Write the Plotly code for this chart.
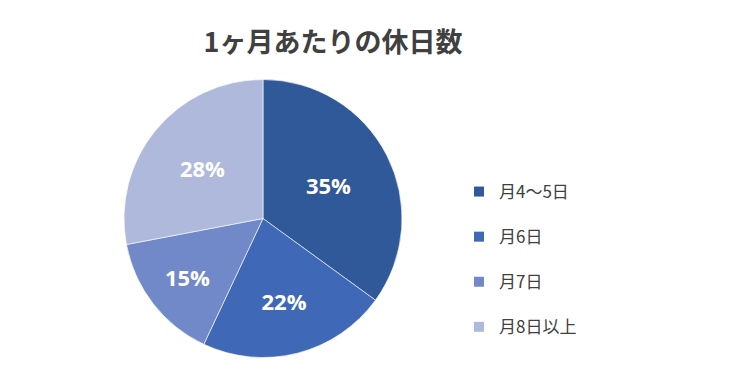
import plotly.graph_objects as go

categories = ["月4〜5日", "月6日", "月7日", "月8日以上"]
values = [35, 22, 15, 28]
colors = ["#30599A", "#3F69B6", "#7189C8", "#AEB9DC"]

W, H = 740, 378
OFF = 8  # page body offset
fig = go.Figure()
fig.add_trace(go.Pie(
    labels=categories, values=values, sort=False, direction="clockwise", rotation=0,
    marker=dict(colors=colors, line=dict(color="rgba(255,255,255,0.6)", width=1)),
    texttemplate="<b>%{percent:.0%}</b>", textposition="inside", insidetextorientation="horizontal",
    textfont=dict(family="Open Sans", size=22, color="white"),
    domain=dict(x=[(124 - OFF) / W, (402 - OFF) / W], y=[1 - (358 - OFF) / H, 1 - (79 - OFF) / H]),
    showlegend=False, hoverinfo="label+percent",
))
for i, (c, col) in enumerate(zip(categories, colors)):
    fig.add_trace(go.Scatter(
        x=[None], y=[None], mode="markers", name=c, legendgroup=f"g{i}",
        marker=dict(symbol="square", size=10, color=col), showlegend=True,
    ))

fig.update_layout(
    width=W, height=H, margin=dict(l=0, r=0, t=0, b=0),
    paper_bgcolor="white", plot_bgcolor="white",
    xaxis=dict(visible=False), yaxis=dict(visible=False),
    title=dict(text="<b>1ヶ月あたりの休日数</b>", x=(333 - OFF) / W, xanchor="center",
               y=1 - (43 - OFF) / H, yanchor="middle",
               font=dict(family="Noto Sans CJK JP", size=27, color="#404040")),
    legend=dict(x=(459 - OFF) / W, xanchor="left", y=1 - (174 - OFF) / H, yanchor="top",
                font=dict(family="Noto Sans CJK JP", size=17, color="#404040"),
                tracegroupgap=20, bgcolor="rgba(0,0,0,0)"),
)
fig.write_html("out.html")
